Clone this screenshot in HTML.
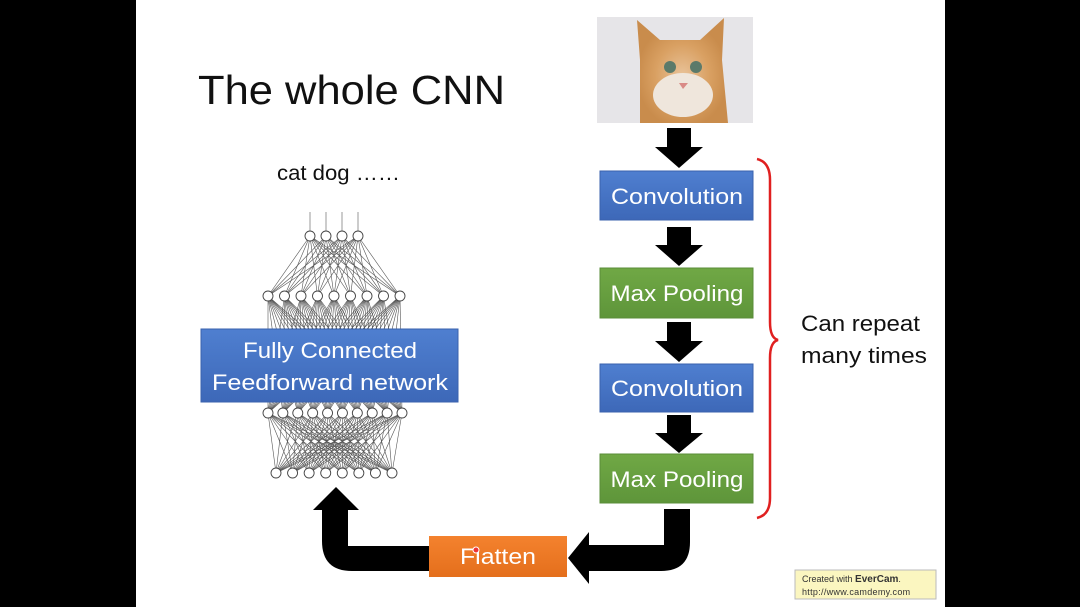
<!DOCTYPE html>
<html><head><meta charset="utf-8"><style>
html,body{margin:0;padding:0;background:#000;}
#s{position:relative;width:1080px;height:607px;overflow:hidden;background:#000;font-family:"Liberation Sans","DejaVu Sans",sans-serif;}
</style></head><body><div id="s">
<svg id="g" width="1080" height="607" viewBox="0 0 1080 607" xmlns="http://www.w3.org/2000/svg" style="position:absolute;left:0;top:0">
<defs>
<linearGradient id="bl" x1="0" y1="0" x2="0" y2="1"><stop offset="0" stop-color="#4f7fd0"/><stop offset="1" stop-color="#3d68b8"/></linearGradient>
<linearGradient id="gr" x1="0" y1="0" x2="0" y2="1"><stop offset="0" stop-color="#70a845"/><stop offset="1" stop-color="#5e953a"/></linearGradient>
<linearGradient id="or" x1="0" y1="0" x2="0" y2="1"><stop offset="0" stop-color="#f4822e"/><stop offset="1" stop-color="#e46f1c"/></linearGradient>
<radialGradient id="cat" cx="0.5" cy="0.55" r="0.5"><stop offset="0" stop-color="#e9c39a"/><stop offset="0.6" stop-color="#d9a062"/><stop offset="1" stop-color="#c98c4c"/></radialGradient>
</defs>
<rect x="136" y="0" width="809" height="607" fill="#fff"/>
<text x="198" y="104" font-size="41" fill="#111" textLength="307" lengthAdjust="spacingAndGlyphs">The whole CNN</text>
<text x="277" y="180" font-size="21" fill="#111" textLength="123" lengthAdjust="spacingAndGlyphs">cat dog ……</text>
<g id="net" stroke="#555" stroke-width="0.6"></g>
<g id="nodes" fill="#fff" stroke="#444" stroke-width="0.9"></g>
<rect x="597" y="17" width="156" height="106" fill="#e6e5e8"/>
<path d="M640 123 L640 60 L637 20 L660 40 L700 40 L724 18 L722 60 L728 123 Z" fill="url(#cat)"/>
<ellipse cx="683" cy="95" rx="30" ry="22" fill="#efe6dc"/>
<ellipse cx="670" cy="67" rx="6" ry="6" fill="#5b7a6a"/><ellipse cx="696" cy="67" rx="6" ry="6" fill="#5b7a6a"/>
<path d="M679 83 L688 83 L683 89 Z" fill="#d98a86"/>
<g fill="#000">
<path d="M667 128 H691 V147 H703 L679 168 L655 147 H667 Z"/>
<path d="M667 227 H691 V245 H703 L679 266 L655 245 H667 Z"/>
<path d="M667 322 H691 V341 H703 L679 362 L655 341 H667 Z"/>
<path d="M667 415 H691 V433 H703 L679 453 L655 433 H667 Z"/>
<path d="M664 509 H690 V542 Q690 571 661 571 H589 V584 L568 558 L589 532 V545 H664 Z"/>
<path d="M429 546 V571 H352 Q322 571 322 541 V510 H313 L336 487 L359 510 H348 V546 Z"/>
</g>
<g font-size="22" fill="#fff" text-anchor="middle">
<rect x="201" y="329" width="257" height="73" fill="url(#bl)" stroke="#3a62ad"/>
<text x="330" y="358" textLength="174" lengthAdjust="spacingAndGlyphs">Fully Connected</text>
<text x="330" y="390" textLength="236" lengthAdjust="spacingAndGlyphs">Feedforward network</text>
<rect x="600" y="171" width="153" height="49" fill="url(#bl)" stroke="#3a62ad"/>
<text x="677" y="204" textLength="132" lengthAdjust="spacingAndGlyphs">Convolution</text>
<rect x="600" y="268" width="153" height="50" fill="url(#gr)" stroke="#5a8c38"/>
<text x="677" y="301" textLength="133" lengthAdjust="spacingAndGlyphs">Max Pooling</text>
<rect x="600" y="364" width="153" height="48" fill="url(#bl)" stroke="#3a62ad"/>
<text x="677" y="396" textLength="132" lengthAdjust="spacingAndGlyphs">Convolution</text>
<rect x="600" y="454" width="153" height="49" fill="url(#gr)" stroke="#5a8c38"/>
<text x="677" y="487" textLength="133" lengthAdjust="spacingAndGlyphs">Max Pooling</text>
<rect x="429" y="536" width="138" height="41" fill="url(#or)"/>
<text x="498" y="564" textLength="76" lengthAdjust="spacingAndGlyphs">Flatten</text>
</g>
<circle cx="476" cy="550" r="3" fill="#e33" stroke="#fff" stroke-width="1"/>
<path d="M757 159 Q770 162 770 180 V322 Q770 338 778 340 Q770 342 770 358 V498 Q770 515 757 518" fill="none" stroke="#e02020" stroke-width="2.5"/>
<text x="801" y="331" font-size="22" fill="#111" textLength="119" lengthAdjust="spacingAndGlyphs">Can repeat</text>
<text x="801" y="363" font-size="22" fill="#111" textLength="126" lengthAdjust="spacingAndGlyphs">many times</text>
<rect x="795" y="570" width="141" height="29" fill="#fbf6c0" stroke="#bbb"/>
<text x="802" y="582" font-size="9" fill="#333">Created with <tspan font-weight="bold" font-size="10">EverCam</tspan>.</text>
<text x="802" y="595" font-size="9" fill="#333" letter-spacing="0.3">http://www.camdemy.com</text>
</svg>
</div>
<script>
var ns="http://www.w3.org/2000/svg";
function L(n,x0,x1,y){var a=[];for(var i=0;i<n;i++)a.push([n==1?x0:x0+(x1-x0)*i/(n-1),y]);return a;}
var ls=[L(4,310,358,236),L(9,268,400,296),L(10,268,402,413),L(8,276,392,473)];
var net=document.getElementById('net'),nd=document.getElementById('nodes');
function line(a,b){var l=document.createElementNS(ns,'line');l.setAttribute('x1',a[0]);l.setAttribute('y1',a[1]);l.setAttribute('x2',b[0]);l.setAttribute('y2',b[1]);net.appendChild(l);}
for(var k=0;k<3;k++)ls[k].forEach(function(a){ls[k+1].forEach(function(b){line(a,b);});});
ls[0].forEach(function(a){line([a[0],212],a);});
ls.forEach(function(l){l.forEach(function(p){var c=document.createElementNS(ns,'circle');c.setAttribute('cx',p[0]);c.setAttribute('cy',p[1]);c.setAttribute('r',5);nd.appendChild(c);});});
</script>
</body></html>
